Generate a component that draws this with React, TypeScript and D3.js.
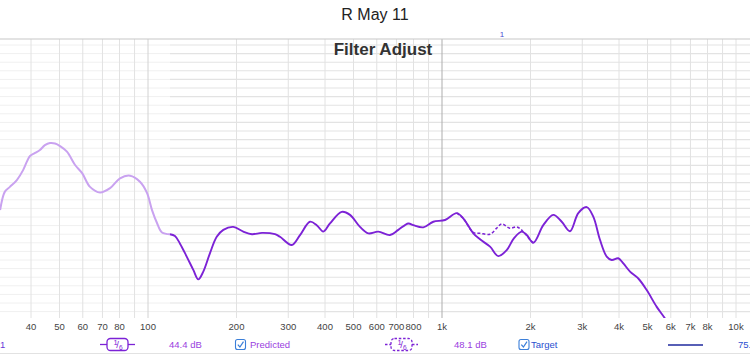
import React from "react";
import * as d3 from "d3";

const W = 750;
const H = 355;

// Predicted response, low (out-of-range, light) part: [Hz, dB]
const predictedLowFreq = [31.4, 32.6, 33.9, 35.8, 37.6, 38.8, 39.7, 41.3, 42.9, 44.6, 46.4, 48.3, 50.2, 53.0, 56.5, 59.7, 63.5, 68.7, 74.3, 80.3, 86.9, 93.9, 99.2, 103.2, 107.3, 111.6, 118.8];
const predictedLowDb = [71.6, 75.9, 77.0, 78.6, 80.9, 83.0, 84.2, 84.9, 85.6, 86.7, 87.2, 87.1, 86.5, 85.2, 82.1, 80.2, 77.0, 75.7, 76.7, 79.0, 79.6, 78.2, 75.6, 71.6, 68.6, 66.4, 66.0];

// Predicted response, filter range (dark) part
const predictedFreq = [118.8, 123.5, 128.5, 135.4, 142.6, 148.3, 154.2, 162.5, 171.3, 180.4, 195.0, 210.9, 225.8, 244.2, 270.4, 281.2, 308.2, 328.9, 355.6, 374.9, 394.7, 415.9, 455.8, 486.5, 526.1, 561.5, 607.2, 665.3, 710.2, 768.1, 798.8, 863.7, 934.2, 1024, 1122, 1181, 1278, 1347, 1457, 1554, 1660, 1758, 1867, 1942, 2045, 2211, 2391, 2554, 2725, 2908, 3106, 3270, 3446, 3633, 3778, 3978, 4137, 4361, 4653, 4970, 5375, 5736, 6058];
const predictedDb = [66.0, 65.6, 63.8, 60.8, 57.7, 55.5, 57.3, 61.6, 65.4, 67.0, 67.7, 66.6, 66.0, 66.3, 66.0, 65.4, 63.5, 65.8, 68.9, 68.1, 66.6, 68.5, 71.2, 70.5, 67.7, 66.2, 66.6, 65.8, 67.0, 68.5, 68.1, 67.6, 68.9, 69.3, 70.9, 69.7, 66.2, 64.8, 63.1, 60.9, 62.3, 65.1, 66.6, 65.8, 64.0, 68.1, 70.5, 68.9, 66.7, 70.9, 72.3, 70.1, 64.7, 60.8, 60.0, 60.4, 59.2, 57.3, 55.7, 53.0, 49.1, 46.4, 43.7];

// Target response where it departs from the prediction
const targetFreq = [1122, 1181, 1278, 1347, 1457, 1535, 1596, 1703, 1796, 1890, 1992, 2045];
const targetDb = [70.9, 69.7, 66.4, 66.2, 66.0, 67.4, 68.4, 67.4, 67.7, 66.6, 64.7, 64.0];

// Axis
const gridFreqs = [40, 50, 60, 70, 80, 90, 100, 200, 300, 400, 500, 600, 700, 800, 900, 1000, 2000, 3000, 4000, 5000, 6000, 7000, 8000, 9000, 10000];
const tickFreqs = [40, 50, 60, 70, 80, 100, 200, 300, 400, 500, 600, 700, 800, 1000, 2000, 3000, 4000, 5000, 6000, 7000, 8000, 10000];
const tickLabels = ["40", "50", "60", "70", "80", "100", "200", "300", "400", "500", "600", "700", "800", "1k", "2k", "3k", "4k", "5k", "6k", "7k", "8k", "10k"];
const gridDb = d3.range(110, 47, -2);

const PLOT_TOP = 39;
const PLOT_BOTTOM = 318;

const x = d3.scaleLog().domain([1000, 10000]).range([442, 736]);
const y = d3.scaleLinear().domain([110, 46]).range([45, 45 + 64 * 4.3]);

const FONT = "'Liberation Sans', Arial, Helvetica, sans-serif";
const PURPLE = "#7c22d6";
const LIGHT = "#c9a2f0";

function mkLine(fs: number[], ds: number[]) {
  const pts = fs.map((f, i) => [x(f), y(ds[i])] as [number, number]);
  return d3.line().curve(d3.curveCatmullRom.alpha(0.5))(pts) || "";
}

function Checkbox({ cx, cy }: { cx: number; cy: number }) {
  return (
    <g>
      <rect x={cx - 5} y={cy - 5} width={10} height={10} rx={2} fill="#fff" stroke="#3b7fd9" strokeWidth={1.1} />
      <path d={`M${cx - 2.7},${cy + 0.2} L${cx - 0.6},${cy + 2.5} L${cx + 3},${cy - 2.8}`} fill="none" stroke="#3b7fd9" strokeWidth={1.2} />
    </g>
  );
}

function SixthBox({ x0, x1, bx0, bx1, cy, dashed }: { x0: number; x1: number; bx0: number; bx1: number; cy: number; dashed?: boolean }) {
  const da = dashed ? "2.5,1.8" : undefined;
  const cxm = (bx0 + bx1) / 2;
  return (
    <g stroke={PURPLE} strokeWidth={1.3}>
      <line x1={x0} x2={bx0} y1={cy} y2={cy} strokeDasharray={da} />
      <line x1={bx1} x2={x1} y1={cy} y2={cy} strokeDasharray={da} />
      <rect x={bx0} y={cy - 6} width={bx1 - bx0} height={12} rx={3.5} fill="#fff" strokeDasharray={da} />
      <g stroke="none" fill={PURPLE} fontFamily={FONT}>
        <text x={cxm - 4} y={cy + 0.5} fontSize={7.5}>1</text>
        <text x={cxm - 1.2} y={cy + 3.8} fontSize={9.5}>/</text>
        <text x={cxm + 1.6} y={cy + 5} fontSize={6.5}>6</text>
      </g>
    </g>
  );
}

export default function App() {
  const lowPath = mkLine(predictedLowFreq, predictedLowDb);
  const mainPath = mkLine(predictedFreq, predictedDb);
  const targetPath = mkLine(targetFreq, targetDb);
  const splitX = 170;
  return (
    <div style={{ position: "absolute", left: 0, top: 0 }}>
      <svg width={W} height={H} style={{ display: "block", background: "#fff" }}>
        <defs>
          <clipPath id="plotclip">
            <rect x={0} y={PLOT_TOP} width={W} height={PLOT_BOTTOM - PLOT_TOP} />
          </clipPath>
        </defs>
        {/* title */}
        <text x={375} y={20} textAnchor="middle" fontFamily={FONT} fontSize={16} fill="#222">R May 11</text>
        <text x={502} y={37} textAnchor="middle" fontFamily={FONT} fontSize={8} fill="#4a4ad0">1</text>

        {/* grid */}
        <g clipPath="url(#plotclip)">
          {gridDb.map((v) => (
            <g key={v}>
              <line x1={0} x2={splitX} y1={y(v)} y2={y(v)} stroke="#f0f0f0" strokeWidth={1} />
              <line x1={splitX} x2={W} y1={y(v)} y2={y(v)} stroke="#e3e3e3" strokeWidth={1.1} />
            </g>
          ))}
          {gridFreqs.map((f) => (
            <line key={f} x1={x(f)} x2={x(f)} y1={PLOT_TOP} y2={PLOT_BOTTOM}
              stroke={f === 1000 ? "#adadad" : f === 100 ? "#d2d2d2" : "#e2e2e2"} strokeWidth={1} />
          ))}
        </g>
        <line x1={0} x2={W} y1={PLOT_TOP} y2={PLOT_TOP} stroke="#c8c8c8" strokeWidth={1.2} />

        <text x={383} y={55} textAnchor="middle" fontFamily={FONT} fontSize={17} fontWeight="bold" fill="#333">Filter Adjust</text>

        {/* curves */}
        <g clipPath="url(#plotclip)" fill="none">
          <path d={lowPath} stroke={LIGHT} strokeWidth={2} />
          <path d={mainPath} stroke={PURPLE} strokeWidth={1.9} />
          <path d={targetPath} stroke={PURPLE} strokeWidth={1.5} strokeDasharray="3,2" />
        </g>

        {/* x tick labels */}
        <g fontFamily={FONT} fontSize={9.5} fill="#444" textAnchor="middle">
          {tickFreqs.map((f, i) => (
            <text key={f} x={x(f)} y={330}>{tickLabels[i]}</text>
          ))}
        </g>

        {/* legend row */}
        <g fontFamily={FONT} fontSize={9.5}>
          <text x={0} y={348} fill="#6a3ad8">1</text>
          <SixthBox x0={100} x1={135} bx0={107} bx1={128} cy={344.5} />
          <text x={169} y={348} fill="#9a40e0">44.4 dB</text>
          <Checkbox cx={240.5} cy={344.5} />
          <text x={250} y={348} fill="#9a40e0">Predicted</text>
          <SixthBox x0={385} x1={418} bx0={391} bx1={412} cy={344.5} dashed />
          <text x={454} y={348} fill="#9a40e0">48.1 dB</text>
          <Checkbox cx={524} cy={344.5} />
          <text x={531} y={348} fill="#2a4fd0">Target</text>
          <line x1={668} x2={703} y1={345} y2={345} stroke="#1f2a9e" strokeWidth={1.6} />
          <text x={738} y={348} fill="#2a4fd0">75.</text>
        </g>
        <line x1={0} x2={W} y1={353.5} y2={353.5} stroke="#e2e2e2" strokeWidth={1} />
      </svg>
    </div>
  );
}
